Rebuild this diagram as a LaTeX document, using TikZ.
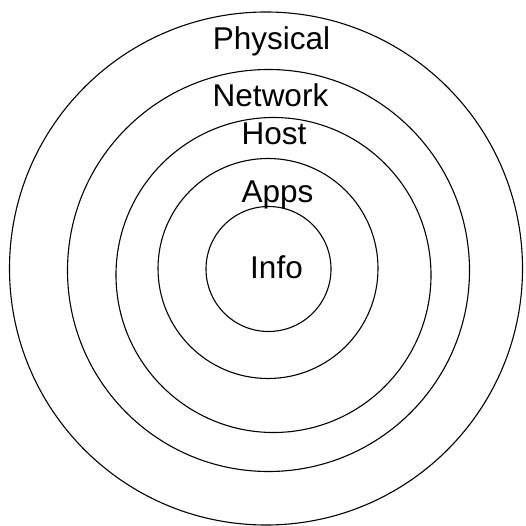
\documentclass[tikz,border=0pt]{standalone}
\usepackage{fontspec}
\setmainfont{Liberation Sans}
\usepackage{tikz}

\tikzset{
    ring/.style={circle,draw,line width=1.1pt,inner sep=0pt},
    layer/.style={anchor=base,inner sep=0pt,font=\fontsize{31.5}{36}\selectfont}
}

\begin{document}
\begin{tikzpicture}[x=1pt,y=-1pt]
\useasboundingbox (0,0) rectangle (525,526);
% rings, outermost first
\node[ring,minimum size=513pt] (physical) at (266,268.5) {};
\node[ring,minimum size=402pt] (network) at (268.5,270.5) {};
\node[ring,minimum size=315pt] (host) at (273.5,275) {};
\node[ring,minimum size=220pt] (apps) at (268,268.5) {};
\node[ring,minimum size=125pt] (info) at (268.5,269) {};
% labels
\node[layer] (physical-l) at (271.5,50) {Physical};
\node[layer] (network-l) at (270.5,107) {Network};
\node[layer] (host-l) at (274,145) {Host};
\node[layer] (apps-l) at (277.5,203) {Apps};
\node[layer] (info-l) at (276.5,278) {Info};
\end{tikzpicture}
\end{document}
